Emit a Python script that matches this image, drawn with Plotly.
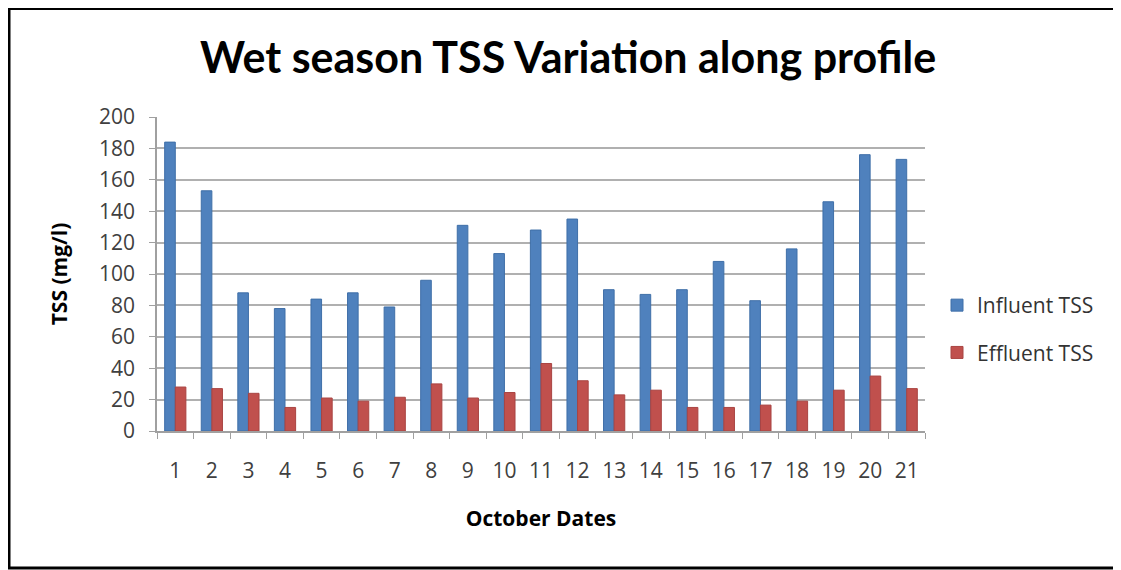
import plotly.graph_objects as go

dates = [str(i) for i in range(1, 22)]
influent_tss = [184, 153, 88, 78, 84, 88, 79, 96, 131, 113, 128, 135, 90, 87, 90, 108, 83, 116, 146, 176, 173]
effluent_tss = [28, 27, 24, 15, 21, 19, 21.5, 30, 21, 24.5, 43, 32, 23, 26, 15, 15, 16.5, 19, 26, 35, 27]
y_ticks = [0, 20, 40, 60, 80, 100, 120, 140, 160, 180, 200]

# page body has an 8px margin: work in reference pixels, shift by OFF
OFF = 8
W, H = 1121 - OFF, 570 - OFF
PL, PR, PT, PB = 157, 925, 117, 431  # plot area in reference pixels
L, T = PL - OFF, PT - OFF
R = W - (PR - OFF)
B = H - (PB - OFF)
pw, ph = PR - PL, PB - PT

def px_x(p):
    return (p - PL) / pw

def px_y(p):
    return (PB - p) / ph

fig = go.Figure()
fig.add_trace(go.Bar(x=dates, y=influent_tss, name="Influent TSS", legendgroup="a",
                     marker=dict(color="#4F81BD", line=dict(color="#3f6fa8", width=1))))
fig.add_trace(go.Bar(x=dates, y=effluent_tss, name="Effluent TSS", legendgroup="b",
                     marker=dict(color="#C0504D", line=dict(color="#a94442", width=1))))

fig.add_shape(type="rect", xref="paper", yref="paper",
              x0=px_x(9), x1=px_x(1135), y0=px_y(568), y1=px_y(8.5),
              line=dict(color="black", width=3), fillcolor="rgba(0,0,0,0)", layer="above")

fig.update_layout(
    width=W, height=H,
    margin=dict(l=L, r=R, t=T, b=B, pad=0),
    paper_bgcolor="white", plot_bgcolor="white",
    barmode="group", bargap=0.42, bargroupgap=0,
    title=dict(text="<b>Wet season TSS Variation along profile</b>", x=(568 - OFF) / W, xanchor="center",
               y=1 - (58 - OFF) / H, yanchor="middle",
               font=dict(family="Lato", size=43, color="black")),
    font=dict(family="Open Sans", color="#404040"),
    legend=dict(x=px_x(937), y=px_y(285), xanchor="left", yanchor="top",
                font=dict(size=21, color="#333333"), tracegroupgap=17,
                bgcolor="rgba(0,0,0,0)"),
    showlegend=True,
)
fig.update_xaxes(type="category", showline=True, linecolor="#a0a0a0", linewidth=1.5,
                 ticks="outside", tickson="boundaries", ticklen=6, tickcolor="#a0a0a0",
                 ticklabelstandoff=20,
                 tickfont=dict(size=21, color="#404040"), showgrid=False,
                 title=dict(text="<b>October Dates</b>", standoff=28,
                            font=dict(size=21, color="black")))
fig.update_yaxes(range=[0, 200], tickvals=y_ticks, showline=True, linecolor="#a0a0a0", linewidth=1.5,
                 ticks="outside", ticklen=6, tickcolor="#a0a0a0",
                 ticklabelstandoff=10,
                 showgrid=True, gridcolor="#b0b0b0", gridwidth=2, zeroline=False,
                 tickfont=dict(size=21, color="#404040"),
                 title=dict(text="<b>TSS (mg/l)</b>", standoff=26,
                            font=dict(size=21, color="black")))

fig.write_html("out.html")
